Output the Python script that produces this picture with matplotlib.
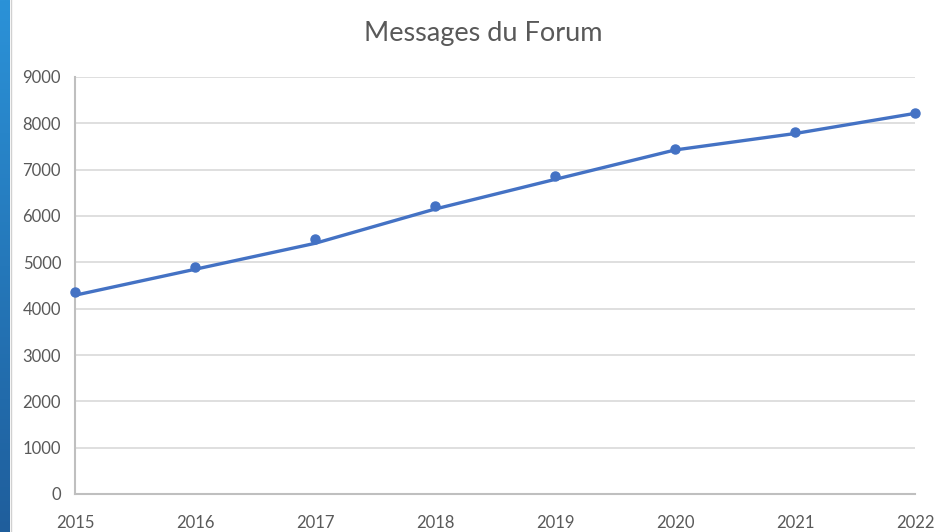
import numpy as np
import matplotlib
matplotlib.use("Agg")
import matplotlib.pyplot as plt

plt.rcParams["font.family"] = ["Lato", "DejaVu Sans"]

years = [2015, 2016, 2017, 2018, 2019, 2020, 2021, 2022]
# points (markers) and the drawn line
points = [4350, 4900, 5500, 6220, 6860, 7450, 7820, 8230]
line = [4290, 4850, 5410, 6150, 6790, 7425, 7780, 8215]
yticks = [0, 1000, 2000, 3000, 4000, 5000, 6000, 7000, 8000, 9000]

blue = "#4472C4"
grey_txt = "#595959"

fig = plt.figure(figsize=(9.38, 5.32), dpi=100)

# blue strip on the left edge with a vertical gradient
strip = fig.add_axes([0, 0, 9 / 938, 1])
grad = np.linspace(0, 1, 256).reshape(-1, 1)
cmap = matplotlib.colors.LinearSegmentedColormap.from_list("s", ["#1F5E9C", "#2B92D8"])
strip.imshow(grad, aspect="auto", cmap=cmap, origin="lower", extent=[0, 1, 0, 1])
strip.axis("off")
fig.add_artist(plt.Line2D([10.5 / 938, 10.5 / 938], [0, 1], color="#D0D0D0", lw=1))

ax = fig.add_axes([75 / 938, 38 / 532, 840 / 938, 417 / 532])
ax.plot(years, line, color=blue, lw=2.4, solid_capstyle="round", zorder=3)
ax.plot(years, points, "o", color=blue, ms=6.5, zorder=4, clip_on=False)

ax.set_xlim(2015, 2022)
ax.set_ylim(0, 9000)
ax.set_xticks(years)
ax.set_yticks(yticks)
ax.grid(axis="y", color="#D9D9D9", lw=1.2)
ax.set_axisbelow(True)
for s in ["top", "right"]:
    ax.spines[s].set_visible(False)
for s in ["left", "bottom"]:
    ax.spines[s].set_color("#BFBFBF")
    ax.spines[s].set_linewidth(1.5)
ax.tick_params(length=0, colors=grey_txt, labelsize=12)
ax.tick_params(axis="x", pad=15)
ax.tick_params(axis="y", pad=10)

fig.text(483 / 938, 1 - 33 / 532, "Messages du Forum", ha="center", va="center",
         fontsize=19.5, color=grey_txt)

fig.savefig("out.png", dpi=100)
